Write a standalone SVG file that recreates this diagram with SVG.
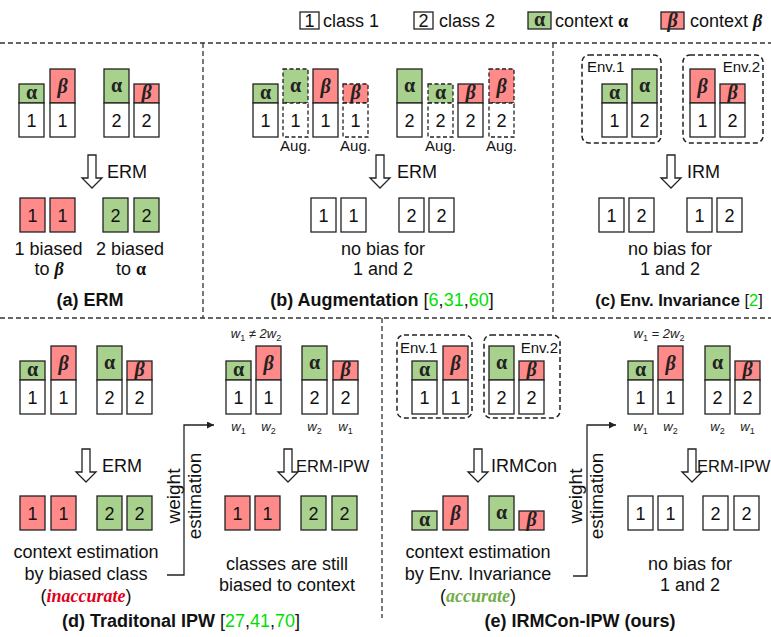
<svg xmlns="http://www.w3.org/2000/svg" width="771" height="637" viewBox="0 0 771 637">
<defs>
<style>
.w{fill:#fff;stroke:#222;stroke-width:1.3}
.g{fill:#a9d18e;stroke:#222;stroke-width:1.3}
.r{fill:#ff8a8a;stroke:#222;stroke-width:1.3}
.d{stroke-dasharray:4 2.5}
.env{fill:none;stroke:#222;stroke-width:1.5;stroke-dasharray:5 3}
.div{fill:none;stroke:#333;stroke-width:1.3;stroke-dasharray:5 3}
.num{font-family:"Liberation Sans",Arial,sans-serif;font-size:18px;fill:#111;text-anchor:middle}
.t{font-family:"Liberation Sans",Arial,sans-serif;font-size:18px;fill:#111}
.c{text-anchor:middle}
.e{text-anchor:end}
.s{font-size:15px}
.ipw{font-size:16.5px}
.tt{font-family:"Liberation Sans",Arial,sans-serif;font-size:18px;font-weight:bold;fill:#111;text-anchor:middle}
.al{font-family:"Liberation Serif","Times New Roman",serif;font-size:20px;font-weight:bold;fill:#222;text-anchor:middle}
.be{font-family:"Liberation Serif","Times New Roman",serif;font-size:20px;font-weight:bold;font-style:italic;fill:#222;text-anchor:middle}
.sa{font-family:"Liberation Serif","Times New Roman",serif;font-weight:bold}
.sb{font-family:"Liberation Serif","Times New Roman",serif;font-weight:bold;font-style:italic}
.ref{fill:#00e000;font-weight:normal}
.nb{font-weight:normal}
.wl{font-family:"Liberation Sans",Arial,sans-serif;font-size:13px;font-style:italic;fill:#222;text-anchor:middle}
.sub{font-size:9px;font-style:normal}
.arr{fill:#fff;stroke:#222;stroke-width:1.3}
.ln{fill:none;stroke:#222;stroke-width:1.3}
</style>
<path id="harrow" d="M-4,0H4V23H10L0,33L-10,23H-4Z"/>
<marker id="mk" viewBox="0 0 10 10" refX="10" refY="5" markerWidth="9" markerHeight="7" markerUnits="userSpaceOnUse" orient="auto">
<path d="M0,0L10,5L0,10Z" fill="#222"/>
</marker>
</defs>

<!-- dividers -->
<g id="dividers">
<line class="div" x1="0" y1="43" x2="771" y2="43"/>
<line class="div" x1="0" y1="318" x2="771" y2="318"/>
<line class="div" x1="203" y1="43" x2="203" y2="318"/>
<line class="div" x1="553" y1="43" x2="553" y2="318"/>
<line class="div" x1="382" y1="318" x2="382" y2="618"/>
</g>

<!-- legend -->
<g id="legend">
<g id="leg1"><rect class="w" x="300" y="12" width="19" height="17"/><text class="num" x="309.5" y="27">1</text><text class="t" x="323" y="27">class 1</text></g>
<g id="leg2"><rect class="w" x="414" y="12" width="19" height="17"/><text class="num" x="423.5" y="27">2</text><text class="t" x="439" y="27">class 2</text></g>
<g id="leg3"><rect class="g" x="528" y="12" width="23" height="17"/><text class="al" x="539.5" y="26">α</text><text class="t" x="555" y="27">context <tspan class="sa">α</tspan></text></g>
<g id="leg4"><rect class="r" x="661" y="12" width="23" height="17"/><text class="be" x="672.5" y="27">β</text><text class="t" x="690" y="27">context <tspan class="sb">β</tspan></text></g>
</g>

<!-- Panel (a) -->
<g id="panel-a">
<g id="a1" transform="translate(19,69)"><rect class="g" y="15" width="25" height="19"/><text class="al" x="12.5" y="30">α</text><rect class="w" y="34" width="25" height="34"/><text class="num" x="12.5" y="57.5">1</text></g>
<g id="a2" transform="translate(50,69)"><rect class="r" y="0" width="25" height="34"/><text class="be" x="12.5" y="24">β</text><rect class="w" y="34" width="25" height="34"/><text class="num" x="12.5" y="57.5">1</text></g>
<g id="a3" transform="translate(104,69)"><rect class="g" y="0" width="25" height="34"/><text class="al" x="12.5" y="23">α</text><rect class="w" y="34" width="25" height="34"/><text class="num" x="12.5" y="57.5">2</text></g>
<g id="a4" transform="translate(134,69)"><rect class="r" y="15" width="25" height="19"/><text class="be" x="12.5" y="30">β</text><rect class="w" y="34" width="25" height="34"/><text class="num" x="12.5" y="57.5">2</text></g>
<text class="t" x="107" y="178">ERM</text>
<g id="a5" transform="translate(20,198)"><rect class="r" width="25" height="34"/><text class="num" x="12.5" y="23.5">1</text></g>
<g id="a6" transform="translate(50,198)"><rect class="r" width="25" height="34"/><text class="num" x="12.5" y="23.5">1</text></g>
<g id="a7" transform="translate(103,198)"><rect class="g" width="25" height="34"/><text class="num" x="12.5" y="23.5">2</text></g>
<g id="a8" transform="translate(134,198)"><rect class="g" width="25" height="34"/><text class="num" x="12.5" y="23.5">2</text></g>
<text class="t c" x="48.5" y="255">1 biased</text>
<text class="t c" x="49" y="275">to <tspan class="sb">β</tspan></text>
<text class="t c" x="130" y="255">2 biased</text>
<text class="t c" x="131" y="275">to <tspan class="sa">α</tspan></text>
<text class="tt" x="90" y="306">(a) ERM</text>
</g>

<!-- Panel (b) -->
<g id="panel-b">
<g id="b1" transform="translate(253,69)"><rect class="g" y="15" width="25" height="19"/><text class="al" x="12.5" y="30">α</text><rect class="w" y="34" width="25" height="34"/><text class="num" x="12.5" y="57.5">1</text></g>
<g id="b2" transform="translate(283,69)"><rect class="g d" y="0" width="25" height="34"/><text class="al" x="12.5" y="23">α</text><rect class="w d" y="34" width="25" height="34"/><text class="num" x="12.5" y="57.5">1</text></g>
<g id="b3" transform="translate(313,69)"><rect class="r" y="0" width="25" height="34"/><text class="be" x="12.5" y="24">β</text><rect class="w" y="34" width="25" height="34"/><text class="num" x="12.5" y="57.5">1</text></g>
<g id="b4" transform="translate(343,69)"><rect class="r d" y="15" width="25" height="19"/><text class="be" x="12.5" y="30">β</text><rect class="w d" y="34" width="25" height="34"/><text class="num" x="12.5" y="57.5">1</text></g>
<g id="b5" transform="translate(397,69)"><rect class="g" y="0" width="25" height="34"/><text class="al" x="12.5" y="23">α</text><rect class="w" y="34" width="25" height="34"/><text class="num" x="12.5" y="57.5">2</text></g>
<g id="b6" transform="translate(428,69)"><rect class="g d" y="15" width="25" height="19"/><text class="al" x="12.5" y="30">α</text><rect class="w d" y="34" width="25" height="34"/><text class="num" x="12.5" y="57.5">2</text></g>
<g id="b7" transform="translate(458,69)"><rect class="r" y="15" width="25" height="19"/><text class="be" x="12.5" y="30">β</text><rect class="w" y="34" width="25" height="34"/><text class="num" x="12.5" y="57.5">2</text></g>
<g id="b8" transform="translate(489,69)"><rect class="r d" y="0" width="25" height="34"/><text class="be" x="12.5" y="24">β</text><rect class="w d" y="34" width="25" height="34"/><text class="num" x="12.5" y="57.5">2</text></g>
<text class="t s c" x="295.5" y="151">Aug.</text>
<text class="t s c" x="355.5" y="151">Aug.</text>
<text class="t s c" x="440.5" y="151">Aug.</text>
<text class="t s c" x="501.5" y="151">Aug.</text>
<text class="t" x="397" y="178">ERM</text>
<g id="b9" transform="translate(311,198)"><rect class="w" width="25" height="34"/><text class="num" x="12.5" y="23.5">1</text></g>
<g id="b10" transform="translate(341,198)"><rect class="w" width="25" height="34"/><text class="num" x="12.5" y="23.5">1</text></g>
<g id="b11" transform="translate(399,198)"><rect class="w" width="25" height="34"/><text class="num" x="12.5" y="23.5">2</text></g>
<g id="b12" transform="translate(429,198)"><rect class="w" width="25" height="34"/><text class="num" x="12.5" y="23.5">2</text></g>
<text class="t c" x="383" y="255">no bias for</text>
<text class="t c" x="383" y="275">1 and 2</text>
<text class="tt" x="382" y="306">(b) Augmentation <tspan class="nb">[</tspan><tspan class="ref">6</tspan><tspan class="nb">,</tspan><tspan class="ref">31</tspan><tspan class="nb">,</tspan><tspan class="ref">60</tspan><tspan class="nb">]</tspan></text>
</g>

<!-- Panel (c) -->
<g id="panel-c">
<g id="c-env1"><rect class="env" x="582" y="55" width="79" height="88" rx="7"/><text class="t s" x="587" y="72">Env.1</text></g>
<g id="c1" transform="translate(602,69)"><rect class="g" y="15" width="25" height="19"/><text class="al" x="12.5" y="30">α</text><rect class="w" y="34" width="25" height="34"/><text class="num" x="12.5" y="57.5">1</text></g>
<g id="c2" transform="translate(632,69)"><rect class="g" y="0" width="25" height="34"/><text class="al" x="12.5" y="23">α</text><rect class="w" y="34" width="25" height="34"/><text class="num" x="12.5" y="57.5">2</text></g>
<g id="c-env2"><rect class="env" x="683" y="55" width="80" height="88" rx="7"/><text class="t s e" x="760" y="72">Env.2</text></g>
<g id="c3" transform="translate(690,69)"><rect class="r" y="0" width="25" height="34"/><text class="be" x="12.5" y="24">β</text><rect class="w" y="34" width="25" height="34"/><text class="num" x="12.5" y="57.5">1</text></g>
<g id="c4" transform="translate(720,69)"><rect class="r" y="15" width="25" height="19"/><text class="be" x="12.5" y="30">β</text><rect class="w" y="34" width="25" height="34"/><text class="num" x="12.5" y="57.5">2</text></g>
<text class="t" x="687" y="178">IRM</text>
<g id="c5" transform="translate(599,198)"><rect class="w" width="25" height="34"/><text class="num" x="12.5" y="23.5">1</text></g>
<g id="c6" transform="translate(629,198)"><rect class="w" width="25" height="34"/><text class="num" x="12.5" y="23.5">2</text></g>
<g id="c7" transform="translate(687,198)"><rect class="w" width="25" height="34"/><text class="num" x="12.5" y="23.5">1</text></g>
<g id="c8" transform="translate(717,198)"><rect class="w" width="25" height="34"/><text class="num" x="12.5" y="23.5">2</text></g>
<text class="t c" x="670" y="255">no bias for</text>
<text class="t c" x="670" y="275">1 and 2</text>
<text class="tt" x="679" y="306" style="font-size:16.5px">(c) Env. Invariance <tspan class="nb">[</tspan><tspan class="ref">2</tspan><tspan class="nb">]</tspan></text>
</g>

<!-- Panel (d) -->
<g id="panel-d">
<g id="d1" transform="translate(20,346)"><rect class="g" y="15" width="25" height="19"/><text class="al" x="12.5" y="30">α</text><rect class="w" y="34" width="25" height="34"/><text class="num" x="12.5" y="57.5">1</text></g>
<g id="d2" transform="translate(51,346)"><rect class="r" y="0" width="25" height="34"/><text class="be" x="12.5" y="24">β</text><rect class="w" y="34" width="25" height="34"/><text class="num" x="12.5" y="57.5">1</text></g>
<g id="d3" transform="translate(97,346)"><rect class="g" y="0" width="25" height="34"/><text class="al" x="12.5" y="23">α</text><rect class="w" y="34" width="25" height="34"/><text class="num" x="12.5" y="57.5">2</text></g>
<g id="d4" transform="translate(127,346)"><rect class="r" y="15" width="25" height="19"/><text class="be" x="12.5" y="30">β</text><rect class="w" y="34" width="25" height="34"/><text class="num" x="12.5" y="57.5">2</text></g>
<text class="t" x="102" y="472">ERM</text>
<g id="d5" transform="translate(20,496)"><rect class="r" width="25" height="34"/><text class="num" x="12.5" y="23.5">1</text></g>
<g id="d6" transform="translate(51,496)"><rect class="r" width="25" height="34"/><text class="num" x="12.5" y="23.5">1</text></g>
<g id="d7" transform="translate(97,496)"><rect class="g" width="25" height="34"/><text class="num" x="12.5" y="23.5">2</text></g>
<g id="d8" transform="translate(127,496)"><rect class="g" width="25" height="34"/><text class="num" x="12.5" y="23.5">2</text></g>
<text class="t c" x="86" y="558">context estimation</text>
<text class="t c" x="86" y="580">by biased class</text>
<text class="t c" x="86" y="602">(<tspan class="sb" fill="#e0001a">inaccurate</tspan>)</text>
<text class="t c" transform="translate(180,496) rotate(-90)" style="font-size:19px">weight</text>
<text class="t c" transform="translate(201,496) rotate(-90)" style="font-size:19px">estimation</text>
<text class="wl" x="256" y="338">w<tspan class="sub" dy="3">1</tspan><tspan dy="-3"> ≠ 2w</tspan><tspan class="sub" dy="3">2</tspan></text>
<g id="d9" transform="translate(226,346)"><rect class="g" y="15" width="25" height="19"/><text class="al" x="12.5" y="30">α</text><rect class="w" y="34" width="25" height="34"/><text class="num" x="12.5" y="57.5">1</text></g>
<g id="d10" transform="translate(256,346)"><rect class="r" y="0" width="25" height="34"/><text class="be" x="12.5" y="24">β</text><rect class="w" y="34" width="25" height="34"/><text class="num" x="12.5" y="57.5">1</text></g>
<g id="d11" transform="translate(302,346)"><rect class="g" y="0" width="25" height="34"/><text class="al" x="12.5" y="23">α</text><rect class="w" y="34" width="25" height="34"/><text class="num" x="12.5" y="57.5">2</text></g>
<g id="d12" transform="translate(333,346)"><rect class="r" y="15" width="25" height="19"/><text class="be" x="12.5" y="30">β</text><rect class="w" y="34" width="25" height="34"/><text class="num" x="12.5" y="57.5">2</text></g>
<text class="wl" x="238.5" y="431">w<tspan class="sub" dy="3">1</tspan></text>
<text class="wl" x="268.5" y="431">w<tspan class="sub" dy="3">2</tspan></text>
<text class="wl" x="314.5" y="431">w<tspan class="sub" dy="3">2</tspan></text>
<text class="wl" x="345.5" y="431">w<tspan class="sub" dy="3">1</tspan></text>
<text class="t ipw" x="296" y="472">ERM-IPW</text>
<g id="d13" transform="translate(225,496)"><rect class="r" width="25" height="34"/><text class="num" x="12.5" y="23.5">1</text></g>
<g id="d14" transform="translate(255,496)"><rect class="r" width="25" height="34"/><text class="num" x="12.5" y="23.5">1</text></g>
<g id="d15" transform="translate(301,496)"><rect class="g" width="25" height="34"/><text class="num" x="12.5" y="23.5">2</text></g>
<g id="d16" transform="translate(332,496)"><rect class="g" width="25" height="34"/><text class="num" x="12.5" y="23.5">2</text></g>
<text class="t c" x="287" y="570">classes are still</text>
<text class="t c" x="287" y="591">biased to context</text>
<text class="tt" x="181" y="627">(d) Traditonal IPW <tspan class="nb">[</tspan><tspan class="ref">27</tspan><tspan class="nb">,</tspan><tspan class="ref">41</tspan><tspan class="nb">,</tspan><tspan class="ref">70</tspan><tspan class="nb">]</tspan></text>
</g>

<!-- Panel (e) -->
<g id="panel-e">
<g id="e-env1"><rect class="env" x="397" y="335" width="75" height="83" rx="7"/><text class="t s" x="400" y="353">Env.1</text></g>
<g id="e1" transform="translate(412,346)"><rect class="g" y="15" width="25" height="19"/><text class="al" x="12.5" y="30">α</text><rect class="w" y="34" width="25" height="34"/><text class="num" x="12.5" y="57.5">1</text></g>
<g id="e2" transform="translate(443,346)"><rect class="r" y="0" width="25" height="34"/><text class="be" x="12.5" y="24">β</text><rect class="w" y="34" width="25" height="34"/><text class="num" x="12.5" y="57.5">1</text></g>
<g id="e-env2"><rect class="env" x="484" y="335" width="76" height="83" rx="7"/><text class="t s e" x="558" y="353">Env.2</text></g>
<g id="e3" transform="translate(489,346)"><rect class="g" y="0" width="25" height="34"/><text class="al" x="12.5" y="23">α</text><rect class="w" y="34" width="25" height="34"/><text class="num" x="12.5" y="57.5">2</text></g>
<g id="e4" transform="translate(519,346)"><rect class="r" y="15" width="25" height="19"/><text class="be" x="12.5" y="30">β</text><rect class="w" y="34" width="25" height="34"/><text class="num" x="12.5" y="57.5">2</text></g>
<text class="t" x="491" y="472">IRMCon</text>
<g id="e5" transform="translate(412,496)"><rect class="g" y="15" width="25" height="19"/><text class="al" x="12.5" y="30">α</text></g>
<g id="e6" transform="translate(443,496)"><rect class="r" y="0" width="25" height="34"/><text class="be" x="12.5" y="24">β</text></g>
<g id="e7" transform="translate(489,496)"><rect class="g" y="0" width="25" height="34"/><text class="al" x="12.5" y="23">α</text></g>
<g id="e8" transform="translate(519,496)"><rect class="r" y="15" width="25" height="19"/><text class="be" x="12.5" y="30">β</text></g>
<text class="t c" x="478" y="558">context estimation</text>
<text class="t c" x="478" y="580">by Env. Invariance</text>
<text class="t c" x="478" y="602">(<tspan class="sb" fill="#70ad47">accurate</tspan>)</text>
<text class="t c" transform="translate(582,496) rotate(-90)" style="font-size:19px">weight</text>
<text class="t c" transform="translate(603,496) rotate(-90)" style="font-size:19px">estimation</text>
<text class="wl" x="659" y="338">w<tspan class="sub" dy="3">1</tspan><tspan dy="-3"> = 2w</tspan><tspan class="sub" dy="3">2</tspan></text>
<g id="e9" transform="translate(628,346)"><rect class="g" y="15" width="25" height="19"/><text class="al" x="12.5" y="30">α</text><rect class="w" y="34" width="25" height="34"/><text class="num" x="12.5" y="57.5">1</text></g>
<g id="e10" transform="translate(658,346)"><rect class="r" y="0" width="25" height="34"/><text class="be" x="12.5" y="24">β</text><rect class="w" y="34" width="25" height="34"/><text class="num" x="12.5" y="57.5">1</text></g>
<g id="e11" transform="translate(705,346)"><rect class="g" y="0" width="25" height="34"/><text class="al" x="12.5" y="23">α</text><rect class="w" y="34" width="25" height="34"/><text class="num" x="12.5" y="57.5">2</text></g>
<g id="e12" transform="translate(735,346)"><rect class="r" y="15" width="25" height="19"/><text class="be" x="12.5" y="30">β</text><rect class="w" y="34" width="25" height="34"/><text class="num" x="12.5" y="57.5">2</text></g>
<text class="wl" x="640.5" y="431">w<tspan class="sub" dy="3">1</tspan></text>
<text class="wl" x="670.5" y="431">w<tspan class="sub" dy="3">2</tspan></text>
<text class="wl" x="717.5" y="431">w<tspan class="sub" dy="3">2</tspan></text>
<text class="wl" x="747.5" y="431">w<tspan class="sub" dy="3">1</tspan></text>
<text class="t ipw" x="697" y="472">ERM-IPW</text>
<g id="e13" transform="translate(628,496)"><rect class="w" width="25" height="34"/><text class="num" x="12.5" y="23.5">1</text></g>
<g id="e14" transform="translate(658,496)"><rect class="w" width="25" height="34"/><text class="num" x="12.5" y="23.5">1</text></g>
<g id="e15" transform="translate(703,496)"><rect class="w" width="25" height="34"/><text class="num" x="12.5" y="23.5">2</text></g>
<g id="e16" transform="translate(734,496)"><rect class="w" width="25" height="34"/><text class="num" x="12.5" y="23.5">2</text></g>
<text class="t c" x="690" y="570">no bias for</text>
<text class="t c" x="690" y="591">1 and 2</text>
<text class="tt" x="580" y="627">(e) IRMCon-IPW (ours)</text>
</g>

<!-- connectors -->
<g id="connectors">
<use href="#harrow" class="arr" transform="translate(92,155)"/>
<use href="#harrow" class="arr" transform="translate(380,155)"/>
<use href="#harrow" class="arr" transform="translate(671,155)"/>
<use href="#harrow" class="arr" transform="translate(86,449)"/>
<use href="#harrow" class="arr" transform="translate(288,449)"/>
<use href="#harrow" class="arr" transform="translate(478,449)"/>
<use href="#harrow" class="arr" transform="translate(692,449)"/>
<polyline class="ln" points="167,575 184,575 184,425 214,425" marker-end="url(#mk)"/>
<polyline class="ln" points="573,576 587,576 587,425 616,425" marker-end="url(#mk)"/>
</g>
</svg>
